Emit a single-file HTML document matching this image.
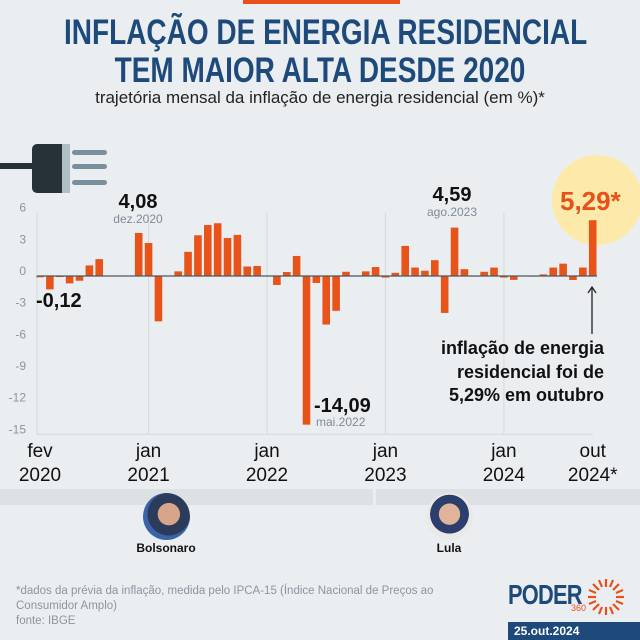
<!DOCTYPE html>
<html><head><meta charset="utf-8"><style>
body{margin:0;background:#ebeef1;font-family:"Liberation Sans",sans-serif;}
#root{position:relative;width:640px;height:640px;overflow:hidden;background:#ebeef1;}
.t{position:absolute;white-space:nowrap;}
</style></head><body>
<div id="root">
<div style="position:absolute;left:243px;top:0;width:157px;height:4px;background:#e8501a"></div>
<div class="t" style="left:0;width:640px;top:14px;text-align:center;font-weight:bold;font-size:35px;line-height:38px;color:#1d4a7a;transform:scaleX(0.8);transform-origin:320px 0">INFLAÇÃO DE ENERGIA RESIDENCIAL<br>TEM MAIOR ALTA DESDE 2020</div>
<div class="t" style="left:0;width:640px;top:88px;text-align:center;font-size:17px;color:#222">trajetória mensal da inflação de energia residencial (em %)*</div>
<svg id="chart" width="640" height="640" style="position:absolute;left:0;top:0">
<g>
<rect x="0" y="163" width="34" height="6" fill="#263238"/>
<rect x="32" y="144" width="36" height="49" rx="5" fill="#263238"/>
<rect x="62" y="144" width="8" height="49" fill="#b0bec5"/>
<rect x="72" y="150" width="35" height="5" rx="2.5" fill="#78909c"/>
<rect x="72" y="164" width="35" height="5" rx="2.5" fill="#78909c"/>
<rect x="72" y="180" width="35" height="5" rx="2.5" fill="#78909c"/>
</g>
<circle cx="597" cy="200" r="45" fill="#fde9a9"/>
<g id="grid"></g><g id="bars"></g>
</svg>
<div class="t" style="left:36px;top:290px;font-weight:bold;font-size:20px;color:#111">-0,12</div>
<div class="t" style="left:98px;top:191px;width:80px;text-align:center;font-weight:bold;font-size:20px;color:#111">4,08</div>
<div class="t" style="left:98px;top:212px;width:80px;text-align:center;font-size:12px;color:#7d8b96">dez.2020</div>
<div class="t" style="left:412px;top:184px;width:80px;text-align:center;font-weight:bold;font-size:20px;color:#111">4,59</div>
<div class="t" style="left:412px;top:205px;width:80px;text-align:center;font-size:12px;color:#7d8b96">ago.2023</div>
<div class="t" style="left:314px;top:395px;font-weight:bold;font-size:20px;color:#111">-14,09</div>
<div class="t" style="left:316px;top:415px;font-size:12px;color:#7d8b96">mai.2022</div>
<div class="t" style="left:560px;top:186px;font-weight:bold;font-size:26px;color:#e8501a">5,29*</div>
<svg width="640" height="640" style="position:absolute;left:0;top:0"><path d="M592 334V288M588 293L592 287L596 293" stroke="#222" stroke-width="1.3" fill="none"/></svg>
<div class="t" style="right:36px;top:337px;text-align:right;font-weight:bold;font-size:18px;line-height:23.5px;color:#111">inflação de energia<br>residencial foi de<br>5,29% em outubro</div>
<div style="position:absolute;left:0;top:489px;width:373px;height:16px;background:#dde1e4"></div>
<div style="position:absolute;left:376px;top:489px;width:264px;height:16px;background:#dde1e4"></div>
<div style="position:absolute;left:143px;top:493px;width:47px;height:47px;border-radius:50%;background:radial-gradient(circle at 55% 45%,#d9a58a 0 30%,#2b3c5a 31% 58%,#3a63a8 59%)"></div>
<div class="t" style="left:126px;top:541px;width:80px;text-align:center;font-weight:bold;font-size:12px;color:#111">Bolsonaro</div>
<div style="position:absolute;left:426px;top:493px;width:47px;height:47px;border-radius:50%;background:radial-gradient(circle at 50% 45%,#e0b49a 0 30%,#2c3e6b 31% 55%,#e9e9e6 56%)"></div>
<div class="t" style="left:409px;top:541px;width:80px;text-align:center;font-weight:bold;font-size:12px;color:#111">Lula</div>
<div class="t" style="left:16px;top:584px;font-size:11.5px;line-height:15px;color:#8a969f">*dados da prévia da inflação, medida pelo IPCA-15 (Índice Nacional de Preços ao<br>Consumidor Amplo)<br>fonte: IBGE</div>
<div class="t" style="left:508px;top:579px;font-weight:bold;font-size:28px;color:#1d4a7a;letter-spacing:-1px;transform:scaleX(0.78);transform-origin:0 0">PODER</div>
<div class="t" style="left:571px;top:603px;font-size:9px;color:#e8501a">360</div>
<svg width="40" height="40" style="position:absolute;left:586px;top:577px"><g stroke="#e8501a" stroke-width="2.2"><line x1="20" y1="2" x2="20" y2="10"/><line x1="20" y1="30" x2="20" y2="38"/><line x1="2" y1="20" x2="10" y2="20"/><line x1="30" y1="20" x2="38" y2="20"/><line x1="7" y1="7" x2="13" y2="13"/><line x1="27" y1="27" x2="33" y2="33"/><line x1="33" y1="7" x2="27" y2="13"/><line x1="7" y1="33" x2="13" y2="27"/><line x1="13" y1="3" x2="16" y2="10"/><line x1="27" y1="3" x2="24" y2="10"/><line x1="13" y1="37" x2="16" y2="30"/><line x1="27" y1="37" x2="24" y2="30"/><line x1="3" y1="13" x2="10" y2="16"/><line x1="37" y1="13" x2="30" y2="16"/><line x1="3" y1="27" x2="10" y2="24"/><line x1="37" y1="27" x2="30" y2="24"/></g></svg>
<div class="t" style="left:508px;top:622px;width:132px;height:18px;background:#1d4a7a;color:#fff;font-weight:bold;font-size:12px;line-height:19px;padding-left:6px;box-sizing:border-box">25.out.2024</div>
</div>
<script>
const values=[-0.12,-1.27,-0.1,-0.7,-0.45,1.0,1.6,0.02,0.05,0.02,4.08,
3.13,-4.3,0.02,0.44,2.29,3.86,4.83,5.0,3.6,3.9,0.9,0.95,
0.02,-0.85,0.38,1.9,-14.09,-0.66,-4.6,-3.3,0.4,0.05,0.44,0.85,
-0.15,0.3,2.85,0.8,0.5,1.5,-3.5,4.59,0.65,-0.05,0.4,0.8,
-0.15,-0.37,0.02,-0.05,0.15,0.8,1.17,-0.38,0.8,5.29];
const yTicks=[6,3,0,-3,-6,-9,-12,-15];
const xLabels=[["fev","2020",0],["jan","2021",11],["jan","2022",23],["jan","2023",35],["jan","2024",47],["out","2024*",56]];
const NS="http://www.w3.org/2000/svg";
const x0=40,step=9.87,zeroY=276,k=10.55;
function xs(i){return x0+i*step;}
function ys(v){return zeroY-v*k;}
const grid=document.getElementById('grid'),bars=document.getElementById('bars');
function mk(tag,attrs,parent){const e=document.createElementNS(NS,tag);for(const a in attrs)e.setAttribute(a,attrs[a]);parent.appendChild(e);return e;}
yTicks.forEach(v=>{
 const t=mk('text',{x:26,y:ys(v)-1,'text-anchor':'end','font-size':12,fill:'#8a969f','font-family':'Liberation Sans'},grid);
 t.textContent=v;
 
 
});
const bottom=ys(-15);
mk('line',{x1:37,x2:593,y1:bottom,y2:bottom,stroke:'#d4d9dd'},grid);
mk('line',{x1:37,x2:37,y1:ys(6),y2:bottom,stroke:'#d4d9dd'},grid);
xLabels.forEach(l=>{
 const x=xs(l[2]);
 if(l[2]>0&&l[2]<56){const g=mk('line',{x1:x,x2:x,y1:ys(6),y2:bottom,stroke:'#d4d9dd'},grid);}
 const a=mk('text',{x:x,y:457,'text-anchor':'middle','font-size':19,fill:'#111','font-family':'Liberation Sans'},grid);a.textContent=l[0];
 
 
 const b=mk('text',{x:x,y:481,'text-anchor':'middle','font-size':19,fill:'#111','font-family':'Liberation Sans'},grid);b.textContent=l[1];
 
 
});
values.forEach((v,i)=>{
 const y=Math.min(ys(v),zeroY),h=Math.max(Math.abs(v)*k,0.6);
 const r=mk('rect',{x:xs(i)-3.8,y:y,width:7.6,height:h,fill:'#e8531a'},bars);
 
 
});
mk('line',{x1:37,x2:597,y1:zeroY,y2:zeroY,stroke:'#455a64','stroke-width':1.2},bars);
</script>
</body></html>
